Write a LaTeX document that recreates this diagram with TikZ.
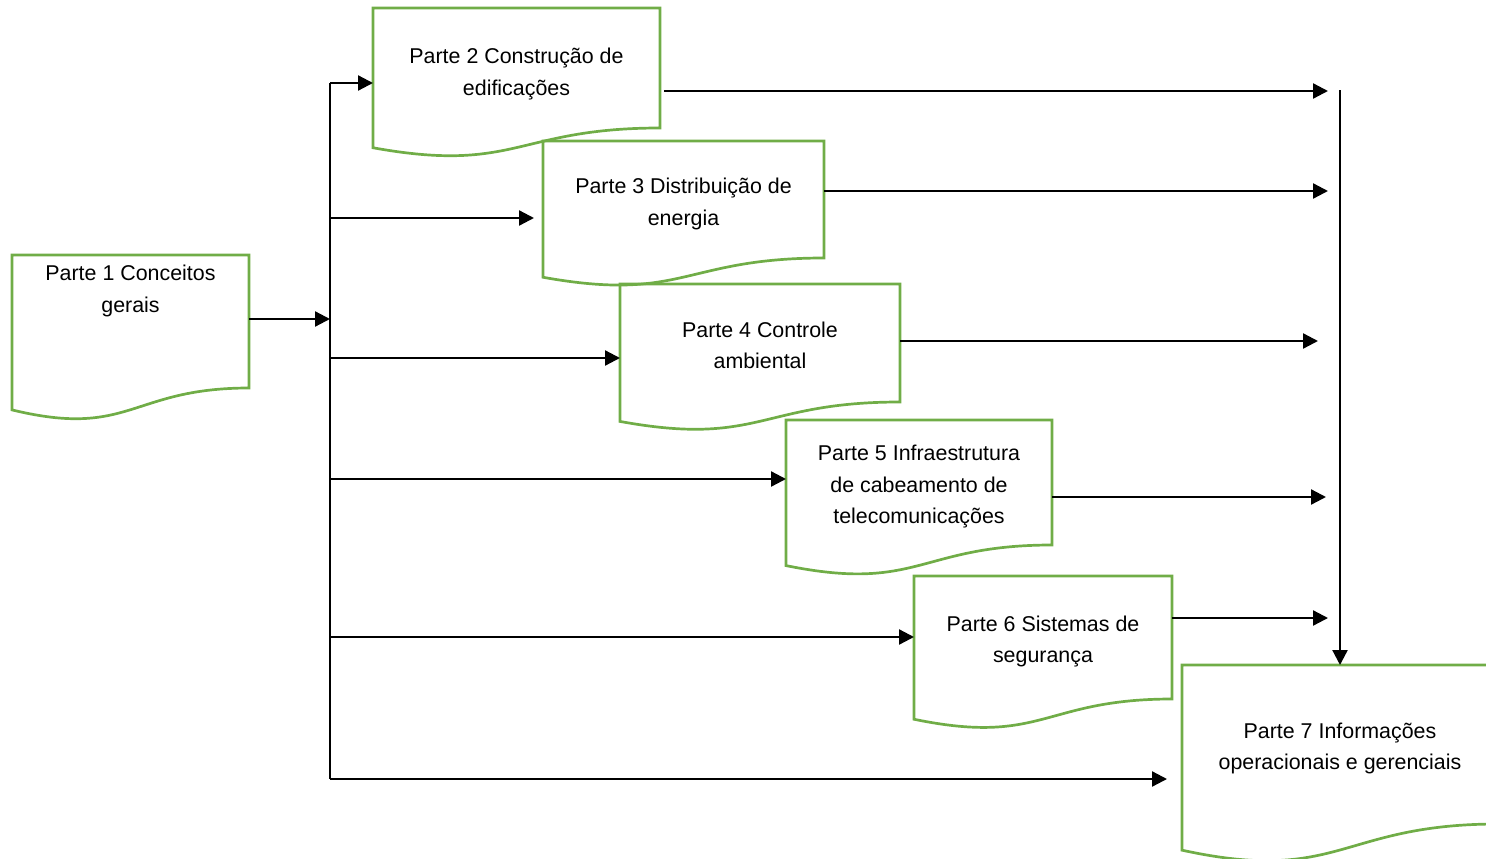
\documentclass[tikz,border=0pt]{standalone}
\usepackage{fontspec}
\setmainfont{Liberation Sans}
\usetikzlibrary{arrows.meta,calc,positioning}
\definecolor{docgreen}{RGB}{112,173,71}
\newcommand{\lift}[1]{\rule{0pt}{#1}}
\tikzset{
  docbox/.style={inner sep=0pt,outer sep=0pt,align=center,font=\fontsize{21.4}{31.5}\selectfont},
  docline/.style={draw=docgreen,line width=2.7pt,line join=miter},
  arr/.style={line width=2.3pt,-{Triangle[length=15pt,width=15pt]}},
  bus/.style={line width=1.4pt}
}
\newcommand{\docframe}[2]{%
  \draw[docline] (#1.north west) -- (#1.north east) -- (#1.south east)
    .. controls (#1.south) and ([yshift=-0.381*#2pt]#1.south) .. ([yshift=-0.1646*#2pt]#1.south west) -- cycle;}

\begin{document}
\begin{tikzpicture}[x=1pt,y=-1pt]
\useasboundingbox (0,0) rectangle (1486,859);
\node[docbox,minimum width=237pt,minimum height=133pt] (p1) at (130.5,321.5) {\lift{17pt}Parte 1 Conceitos\\gerais\\\mbox{}\\\vphantom{gP}};
\node[docbox,minimum width=287pt,minimum height=120pt] (p2) at (516.5,68) {\lift{27.6pt}Parte 2 Construção de\\edificações};
\node[docbox,minimum width=281pt,minimum height=117pt] (p3) at (683.5,199.5) {\lift{24.6pt}Parte 3 Distribuição de\\energia};
\node[docbox,minimum width=280pt,minimum height=118pt] (p4) at (760,343) {\lift{20.6pt}Parte 4 Controle\\ambiental};
\node[docbox,minimum width=266pt,minimum height=125pt] (p5) at (919,482.5) {\lift{23.6pt}Parte 5 Infraestrutura\\de cabeamento de\\telecomunicações};
\node[docbox,minimum width=258pt,minimum height=123pt] (p6) at (1043,637.5) {\lift{23.6pt}Parte 6 Sistemas de\\segurança};
\node[docbox,minimum width=316pt,minimum height=159pt] (p7) at (1340,744.5) {\lift{23.6pt}Parte 7 Informações\\operacionais e gerenciais};
\docframe{p1}{133}
\docframe{p2}{120}
\docframe{p3}{117}
\docframe{p4}{118}
\docframe{p5}{125}
\docframe{p6}{123}
\docframe{p7}{159}
\coordinate (lt) at (330,83);
\coordinate (lb) at (330,779);
\coordinate (l1) at (330,319);
\coordinate (l3) at (330,218);
\coordinate (l4) at (330,358);
\coordinate (l5) at (330,479);
\coordinate (l6) at (330,637);
\coordinate (rt) at (1340,90);
\coordinate (r2) at (1328,91);
\coordinate (r3) at (1328,191);
\coordinate (r4) at (1318,341);
\coordinate (r5) at (1326,497);
\coordinate (r6) at (1328,618);
\draw[bus] (lt) -- (lb);
\path[arr]
(p1.east |- l1) edge (l1)
(lt) edge (p2.west |- lt)
(l3) edge[shorten >=9pt] (p3.west |- l3)
(l4) edge (p4.west |- l4)
(l5) edge (p5.west |- l5)
(l6) edge (p6.west |- l6)
(lb) edge[shorten >=15pt] (p7.west |- lb)
(p2.east |- r2) edge[shorten <=4pt] (r2)
(p3.east |- r3) edge (r3)
(p4.east |- r4) edge (r4)
(p5.east |- r5) edge (r5)
(p6.east |- r6) edge (r6)
(rt) edge (p7.north);
\end{tikzpicture}
\end{document}
